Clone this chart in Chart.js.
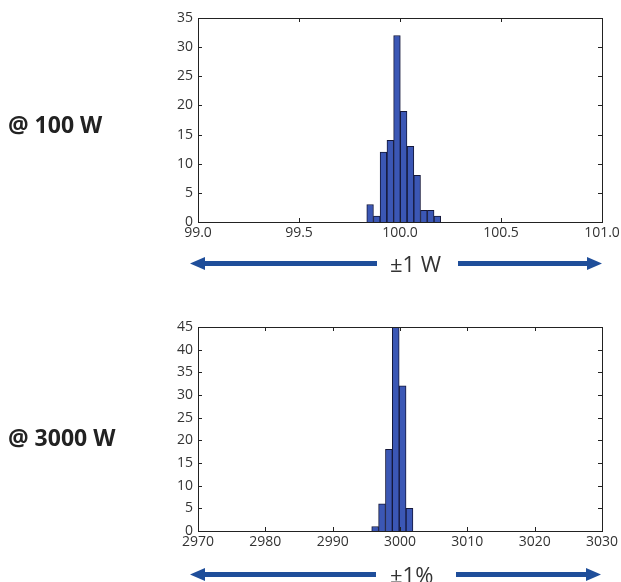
<!DOCTYPE html>
<html>
<head>
<meta charset="utf-8">
<script src="https://cdn.jsdelivr.net/npm/chart.js@4"></script>
<style>
    body { margin: 0; background: #fff; }
    #wrap { position: relative; width: 621px; height: 582px; overflow: hidden; font-family: "Open Sans", sans-serif; }
    canvas { position: absolute; left: 0; }
    .side { position: absolute; left: 8px; font-weight: bold; font-size: 23px; color: #222; line-height: 1; }
    .span { position: absolute; font-size: 22px; color: #333; line-height: 1; }
    svg { position: absolute; left: 0; top: 0; }
</style>
</head>
<body>
<div id="wrap">
    <canvas id="chart100" width="625" height="245" style="top:0"></canvas>
    <canvas id="chart3000" width="625" height="245" style="top:309px"></canvas>
    <div class="side" style="top:113px">@ 100 W</div>
    <div class="side" style="top:426px">@ 3000 W</div>
    <svg width="621" height="582">
        <g fill="#1f4e9a" stroke="none">
            <rect x="200" y="261" width="177" height="5"></rect>
            <polygon points="190,263.5 205,257 205,270"></polygon>
            <rect x="458" y="261" width="133" height="5"></rect>
            <polygon points="602,263.5 587,257 587,270"></polygon>
            <rect x="200" y="572" width="176" height="5"></rect>
            <polygon points="190,574.5 205,568 205,581"></polygon>
            <rect x="456" y="572" width="134" height="5"></rect>
            <polygon points="601,574.5 586,568 586,581"></polygon>
        </g>
    </svg>
    <div class="span" style="left:390px; top:252px">±1 W</div>
    <div class="span" style="left:390px; top:563px">±1%</div>
</div>
<script>
document.addEventListener("DOMContentLoaded", function () {
    // Histogram at 100 W (bin centres and counts)
    const bins100 = [99.852, 99.885, 99.918, 99.952, 99.985, 100.018, 100.052, 100.085, 100.118, 100.152, 100.185];
    const counts100 = [3, 1, 12, 14, 32, 19, 13, 8, 2, 2, 1];

    // Histogram at 3000 W
    const bins3000 = [2996.31, 2997.33, 2998.35, 2999.37, 3000.39, 3001.41];
    const counts3000 = [1, 6, 18, 45, 32, 5];

    // Axis ranges / tick steps
    const xRange100 = [99, 101, 0.5];
    const yRange100 = [0, 35, 5];
    const xRange3000 = [2970, 3030, 10];
    const yRange3000 = [0, 45, 5];

    const colors = {
        bar: "#3b57b5",
        edge: "#15183a",
        frame: "#222",
        text: "#333",
    };

    // matplotlib-style frame with inward ticks on all four sides
    const framePlugin = {
        id: "frame",
        afterDraw(chart) {
            const ctx = chart.ctx;
            const a = chart.chartArea;
            const xs = chart.scales.x;
            const ys = chart.scales.y;
            ctx.save();
            ctx.strokeStyle = colors.frame;
            ctx.lineWidth = 1;
            ctx.beginPath();
            xs.ticks.forEach((t) => {
                const px = Math.round(xs.getPixelForValue(t.value)) + 0.5;
                ctx.moveTo(px, a.bottom);
                ctx.lineTo(px, a.bottom - 4);
                ctx.moveTo(px, a.top);
                ctx.lineTo(px, a.top + 4);
            });
            ys.ticks.forEach((t) => {
                const py = Math.round(ys.getPixelForValue(t.value)) + 0.5;
                ctx.moveTo(a.left, py);
                ctx.lineTo(a.left + 4, py);
                ctx.moveTo(a.right, py);
                ctx.lineTo(a.right - 4, py);
            });
            ctx.stroke();
            ctx.strokeRect(Math.round(a.left) + 0.5, Math.round(a.top) + 0.5,
                Math.round(a.right - a.left), Math.round(a.bottom - a.top));
            ctx.restore();
        },
    };

    function makeHistogram(canvasId, bins, counts, xr, yr, decimals) {
        const canvas = document.getElementById(canvasId);
        if (!canvas) {
            console.error(canvasId + " element not found");
            return;
        }
        new Chart(canvas.getContext("2d"), {
            type: "bar",
            data: {
                datasets: [
                    {
                        data: bins.map((b, i) => ({ x: b, y: counts[i] })),
                        backgroundColor: colors.bar,
                        borderColor: colors.edge,
                        borderWidth: 1,
                        barPercentage: 1,
                        categoryPercentage: 1,
                    },
                ],
            },
            options: {
                responsive: false,
                animation: false,
                layout: { padding: { left: 0, right: 23, top: 18, bottom: 0 } },
                plugins: {
                    legend: { display: false },
                    tooltip: { enabled: false },
                },
                scales: {
                    x: {
                        type: "linear",
                        offset: false,
                        min: xr[0],
                        max: xr[1],
                        grid: { display: false, drawTicks: false },
                        border: { display: false },
                        ticks: {
                            stepSize: xr[2],
                            padding: 3,
                            color: colors.text,
                            maxRotation: 0,
                            font: { family: "Open Sans", size: 14 },
                            callback: (v) => Number(v).toFixed(decimals),
                        },
                        afterFit: (scale) => { scale.height = 23; },
                    },
                    y: {
                        min: yr[0],
                        max: yr[1],
                        grid: { display: false, drawTicks: false },
                        border: { display: false },
                        ticks: {
                            stepSize: yr[2],
                            padding: 5,
                            color: colors.text,
                            font: { family: "Open Sans", size: 14 },
                        },
                        afterFit: (scale) => { scale.width = 198; },
                    },
                },
            },
            plugins: [framePlugin],
        });
    }

    makeHistogram("chart100", bins100, counts100, xRange100, yRange100, 1);
    makeHistogram("chart3000", bins3000, counts3000, xRange3000, yRange3000, 0);
});
</script>
</body>
</html>
